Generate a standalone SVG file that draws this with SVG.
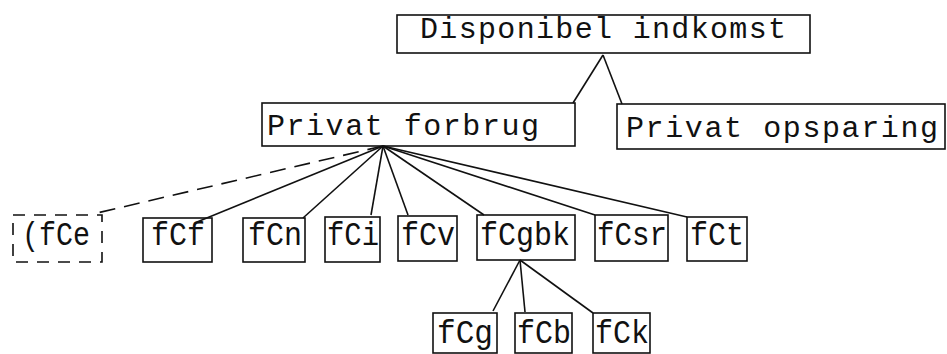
<svg xmlns="http://www.w3.org/2000/svg" width="947" height="354" viewBox="0 0 947 354">
  <style>
    .box { fill: none; stroke: #111; stroke-width: 1.6; }
    .dash { fill: none; stroke: #111; stroke-width: 1.6; stroke-dasharray: 12 9; }
    .big { font-family: "Liberation Mono", "Courier New", monospace; font-size: 30px; fill: #111; }
    .small { font-family: "Liberation Mono", "Courier New", monospace; font-size: 33px; fill: #111; }
    .edge { stroke: #111; stroke-width: 1.6; fill: none; }
    .edge-dash { stroke: #111; stroke-width: 1.6; fill: none; stroke-dasharray: 16 9; }
  </style>
  <rect width="947" height="354" fill="#ffffff"/>

  <g id="connectors">
    <!-- income split -->
    <line class="edge" x1="603" y1="55" x2="573" y2="103"/>
    <line class="edge" x1="603" y1="55" x2="622" y2="104"/>
    <!-- consumption fan -->
    <line class="edge-dash" x1="383" y1="146" x2="97" y2="213"/>
    <line class="edge" x1="383" y1="146" x2="197" y2="222"/>
    <line class="edge" x1="383" y1="146" x2="303" y2="218"/>
    <line class="edge" x1="383" y1="146" x2="371" y2="215"/>
    <line class="edge" x1="383" y1="146" x2="408" y2="215"/>
    <line class="edge" x1="383" y1="146" x2="484" y2="215"/>
    <line class="edge" x1="383" y1="146" x2="595" y2="215"/>
    <line class="edge" x1="383" y1="146" x2="687" y2="217"/>
    <!-- fCgbk breakdown -->
    <line class="edge" x1="520" y1="260" x2="493" y2="311"/>
    <line class="edge" x1="520" y1="260" x2="525" y2="312"/>
    <line class="edge" x1="520" y1="260" x2="593" y2="313"/>
  </g>

  <g id="disponibel">
    <rect class="box" x="397" y="15" width="413" height="38"/>
    <text class="big" x="420" y="38" textLength="366" lengthAdjust="spacing">Disponibel indkomst</text>
  </g>

  <g id="forbrug">
    <rect class="box" x="262" y="103" width="313" height="43"/>
    <text class="big" x="267" y="135" textLength="272" lengthAdjust="spacing">Privat forbrug</text>
  </g>

  <g id="opsparing">
    <rect class="box" x="617" y="104" width="328" height="45"/>
    <text class="big" x="626" y="137" textLength="312" lengthAdjust="spacing">Privat opsparing</text>
  </g>

  <g id="fCe">
    <rect class="dash" x="13" y="215" width="89" height="47"/>
    <text class="small" x="22" y="245" textLength="68" lengthAdjust="spacingAndGlyphs">(fCe</text>
  </g>

  <g id="fCf">
    <rect class="box" x="143" y="218" width="69" height="44"/>
    <text class="small" x="151" y="245" textLength="54" lengthAdjust="spacingAndGlyphs">fCf</text>
  </g>

  <g id="fCn">
    <rect class="box" x="243" y="218" width="62" height="44"/>
    <text class="small" x="248" y="245" textLength="54" lengthAdjust="spacingAndGlyphs">fCn</text>
  </g>

  <g id="fCi">
    <rect class="box" x="325" y="217" width="55" height="45"/>
    <text class="small" x="327" y="245" textLength="52" lengthAdjust="spacingAndGlyphs">fCi</text>
  </g>

  <g id="fCv">
    <rect class="box" x="398" y="216" width="59" height="45"/>
    <text class="small" x="401" y="245" textLength="54" lengthAdjust="spacingAndGlyphs">fCv</text>
  </g>

  <g id="fCgbk">
    <rect class="box" x="477" y="215" width="98" height="45"/>
    <text class="small" x="480" y="245" textLength="90" lengthAdjust="spacingAndGlyphs">fCgbk</text>
  </g>

  <g id="fCsr">
    <rect class="box" x="595" y="215" width="73" height="46"/>
    <text class="small" x="597" y="245" textLength="70" lengthAdjust="spacingAndGlyphs">fCsr</text>
  </g>

  <g id="fCt">
    <rect class="box" x="687" y="217" width="60" height="44"/>
    <text class="small" x="690" y="245" textLength="54" lengthAdjust="spacingAndGlyphs">fCt</text>
  </g>

  <g id="fCg">
    <rect class="box" x="433" y="313" width="64" height="40"/>
    <text class="small" x="437" y="343" textLength="56" lengthAdjust="spacingAndGlyphs">fCg</text>
  </g>

  <g id="fCb">
    <rect class="box" x="515" y="313" width="57" height="40"/>
    <text class="small" x="517" y="343" textLength="54" lengthAdjust="spacingAndGlyphs">fCb</text>
  </g>

  <g id="fCk">
    <rect class="box" x="593" y="313" width="57" height="40"/>
    <text class="small" x="595" y="343" textLength="54" lengthAdjust="spacingAndGlyphs">fCk</text>
  </g>
</svg>
